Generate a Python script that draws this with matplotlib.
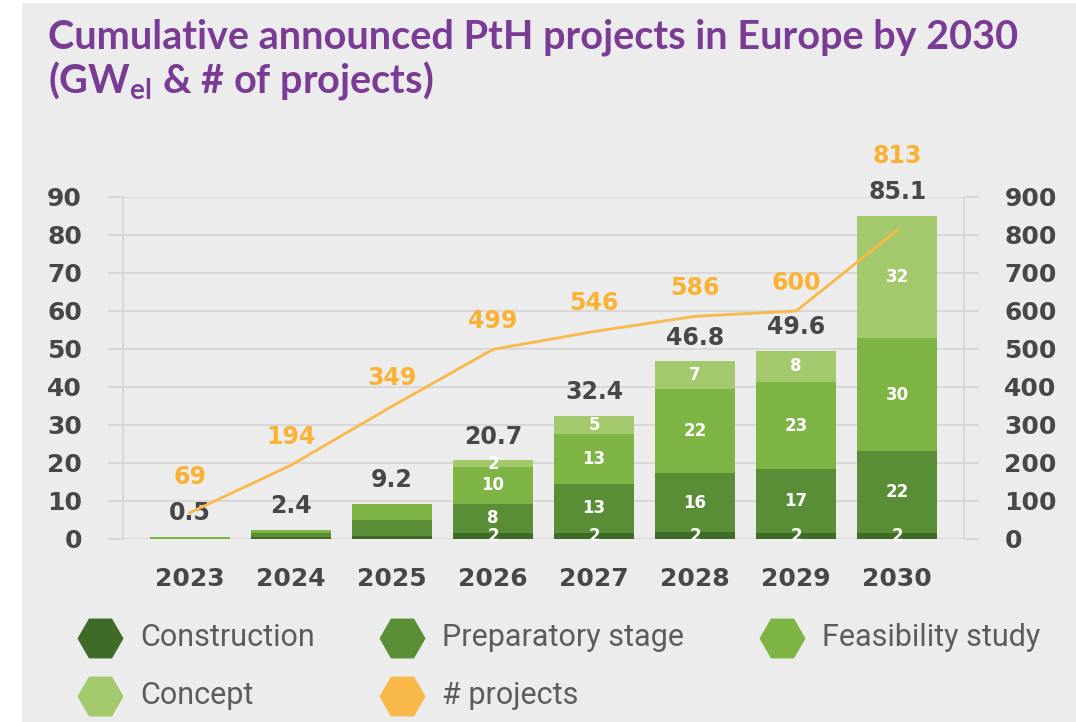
import matplotlib
matplotlib.use("Agg")
import matplotlib.pyplot as plt
from matplotlib.lines import Line2D
from matplotlib.patches import Rectangle

years = ["2023", "2024", "2025", "2026", "2027", "2028", "2029", "2030"]
totals = [0.5, 2.4, 9.2, 20.7, 32.4, 46.8, 49.6, 85.1]
construction = [0.0, 0.5, 0.8, 1.7, 1.7, 1.8, 1.7, 1.5]
preparatory = [0.0, 1.1, 4.2, 7.6, 12.8, 15.6, 16.6, 21.6]
feasibility = [0.5, 0.8, 4.2, 9.6, 13.1, 22.1, 23.1, 29.7]
concept = [0.0, 0.0, 0.0, 1.8, 4.8, 7.3, 8.2, 32.3]
projects = [69, 194, 349, 499, 546, 586, 600, 813]

stages = ["Construction", "Preparatory stage", "Feasibility study", "Concept"]
stage_vals = [construction, preparatory, feasibility, concept]
stage_cols = ["#3e6b25", "#5a8e36", "#7db443", "#a3c96c"]
line_col = "#f9b84a"
purple = "#7a3b95"
dark = "#474747"
grid_col = "#d6d6d6"
bg = "#ececec"

W, H = 1076, 722
fig = plt.figure(figsize=(W / 100, H / 100), dpi=100)
fig.patch.set_facecolor("white")
fig.add_artist(Rectangle((22 / W, 0), 1, 1 - 3 / H, transform=fig.transFigure,
                         facecolor=bg, edgecolor="none", zorder=-10))

# title
fig.text(48 / W, 1 - 48 / H, "Cumulative announced PtH projects in Europe by 2030",
         fontsize=28.5, fontweight="bold", color=purple, family="Lato", va="baseline")
fig.text(48 / W, 1 - 92 / H, r"(GW$_{\mathregular{el}}$ & # of projects)",
         fontsize=28.5, fontweight="bold", color=purple, family="Lato", va="baseline")

ax = fig.add_axes([123 / W, 1 - 539 / H, (964 - 123) / W, 342 / H])
ax.set_facecolor("none")
x = list(range(len(years)))

bottom = [0.0] * len(years)
for name, vals, col in zip(stages, stage_vals, stage_cols):
    ax.bar(x, vals, bottom=bottom, width=0.79, color=col, zorder=3, linewidth=0)
    for i, v in enumerate(vals):
        if totals[i] >= 20 and v > 0:
            ax.text(i, bottom[i] + v / 2, f"{v:.0f}", ha="center", va="center",
                    color="white", fontsize=12, fontweight="bold", zorder=4)
    bottom = [b + v for b, v in zip(bottom, vals)]

for i, t in enumerate(totals):
    ax.annotate(f"{t}", (i, t), xytext=(0, 17), textcoords="offset points",
                ha="center", va="center", fontsize=17, fontweight="bold", color=dark)

ax.set_xlim(-0.66, 7.66)
ax.set_ylim(0, 90)
ax.set_yticks(range(0, 91, 10))
ax.set_xticks(x)
ax.set_xticklabels(years)
ax.yaxis.grid(True, color=grid_col, linewidth=1.3, zorder=0)
ax.set_axisbelow(True)
ax.tick_params(axis="y", direction="out", length=11, width=1.3, color=grid_col,
               pad=18.5, labelsize=18, labelcolor=dark)
ax.tick_params(axis="x", length=0, pad=20, labelsize=18, labelcolor=dark)
for lab in ax.get_yticklabels() + ax.get_xticklabels():
    lab.set_fontweight("bold")
for s in ["top", "bottom"]:
    ax.spines[s].set_visible(False)
for s in ["left", "right"]:
    ax.spines[s].set_color(grid_col)
    ax.spines[s].set_linewidth(1.3)

ax2 = ax.twinx()
ax2.plot(x, projects, color=line_col, linewidth=2, zorder=5)
ax2.set_ylim(0, 900)
ax2.set_yticks(range(0, 901, 100))
ax2.tick_params(axis="y", direction="out", length=11, width=1.3, color=grid_col,
                pad=18, labelsize=18, labelcolor=dark)
for lab in ax2.get_yticklabels():
    lab.set_fontweight("bold")
for s in ax2.spines.values():
    s.set_visible(False)

for i, p in enumerate(projects):
    y = max(p + 74, totals[i] * 10 + 158)
    ax2.text(i, y, str(p), ha="center", va="center", fontsize=17,
             fontweight="bold", color="#f9b233", clip_on=False)

# legend
col_x = [100, 402, 782]
row_y = [638, 696]
entries = list(zip(stages, stage_cols)) + [("# projects", line_col)]
for k, (lab, col) in enumerate(entries):
    cx = col_x[k % 3]
    cy = row_y[k // 3]
    fig.add_artist(Line2D([cx / W], [1 - cy / H], marker="H", markersize=32,
                          color=col, linestyle="", transform=fig.transFigure))
    fig.text((cx + 40) / W, 1 - cy / H, lab, fontsize=22, color="#5c5c5c",
             family="Roboto", va="center", ha="left")

fig.savefig("out.png", dpi=100, facecolor=fig.get_facecolor())
